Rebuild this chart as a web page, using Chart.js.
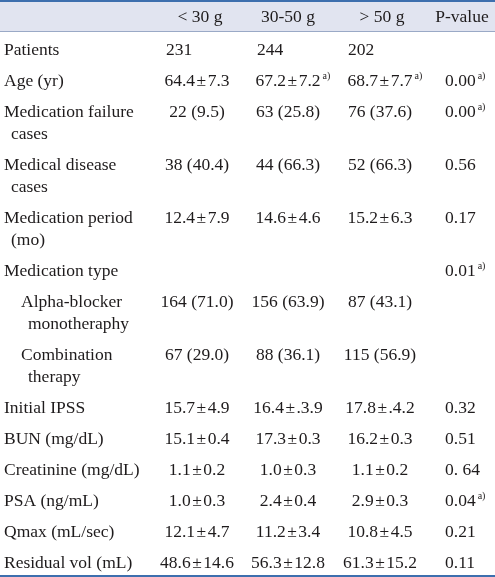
<!DOCTYPE html>
<html>
<head>
<meta charset="utf-8">
<script src="https://cdn.jsdelivr.net/npm/chart.js@4.4.1/dist/chart.umd.min.js"></script>
<style>
html,body{margin:0;padding:0;background:#fff;}
#wrap{width:495px;height:577px;}
</style>
</head>
<body>
<div id="wrap"><canvas id="c" width="495" height="577"></canvas></div>
<script>
// ---- DATA ----
const headers = ["< 30 g", "30-50 g", "> 50 g", "P-value"];
const characteristics = [
  ["Patients"], ["Age (yr)"], ["Medication failure", "cases"], ["Medical disease", "cases"],
  ["Medication period", "(mo)"], ["Medication type"], ["Alpha-blocker", "monotheraphy"],
  ["Combination", "therapy"], ["Initial IPSS"], ["BUN (mg/dL)"], ["Creatinine (mg/dL)"],
  ["PSA (ng/mL)"], ["Qmax (mL/sec)"], ["Residual vol (mL)"]
];
const indentLevel = [0,0,0,0,0,0,1,1,0,0,0,0,0,0];
const under30 = ["231","64.4\u200a±\u200a7.3","22 (9.5)","38 (40.4)","12.4\u200a±\u200a7.9","","164 (71.0)","67 (29.0)","15.7\u200a±\u200a4.9","15.1\u200a±\u200a0.4","1.1\u200a±\u200a0.2","1.0\u200a±\u200a0.3","12.1\u200a±\u200a4.7","48.6\u200a±\u200a14.6"];
const from30to50 = ["244","67.2\u200a±\u200a7.2","63 (25.8)","44 (66.3)","14.6\u200a±\u200a4.6","","156 (63.9)","88 (36.1)","16.4\u200a±\u200a.3.9","17.3\u200a±\u200a0.3","1.0\u200a±\u200a0.3","2.4\u200a±\u200a0.4","11.2\u200a±\u200a3.4","56.3\u200a±\u200a12.8"];
const over50 = ["202","68.7\u200a±\u200a7.7","76 (37.6)","52 (66.3)","15.2\u200a±\u200a6.3","","87 (43.1)","115 (56.9)","17.8\u200a±\u200a.4.2","16.2\u200a±\u200a0.3","1.1\u200a±\u200a0.2","2.9\u200a±\u200a0.3","10.8\u200a±\u200a4.5","61.3\u200a±\u200a15.2"];
const pValues = ["","0.00","0.00","0.56","0.17","0.01","","","0.32","0.51","0. 64","0.04","0.21","0.11"];
const notes30to50 = ["","a)","","","","","","","","","","","",""];
const notesOver50 = ["","a)","","","","","","","","","","","",""];
const notesP = ["","a)","a)","","","a)","","","","","","a)","",""];

// ---- LAYOUT / STYLE ----
const FONT = '17.5px "Liberation Serif", "Times New Roman", serif';
const SUP = '10px "Liberation Serif", "Times New Roman", serif';
const TEXT = '#1e1b1c';
const colCenters = [197, 288, 380];
const colLefts = [166, 257, 348];
const pLeft = 445;
const firstBaseline = 55, rowGap = 31, innerGap = 22;

const tablePlugin = {
  id: 'tableDraw',
  afterDraw(chart) {
    const ctx = chart.ctx, xs = chart.scales.x, ys = chart.scales.y;
    const X = v => xs.getPixelForValue(v), Y = v => ys.getPixelForValue(v);
    ctx.save();
    // header band and rules
    ctx.fillStyle = '#e1e4f0';
    ctx.fillRect(X(0), Y(1), X(495) - X(0), Y(31) - Y(1));
    ctx.fillStyle = '#3d6fae';
    ctx.fillRect(X(0), Y(0), X(495) - X(0), Y(2) - Y(0));
    ctx.fillStyle = '#9aa9c6';
    ctx.fillRect(X(0), Y(31), X(495) - X(0), 1);
    ctx.fillStyle = '#3d6fae';
    ctx.fillRect(X(0), Y(575), X(495) - X(0), Y(577) - Y(575));

    ctx.fillStyle = TEXT;
    ctx.textBaseline = 'alphabetic';
    ctx.font = FONT;
    const hdrX = [colCenters[0] + 3, colCenters[1], colCenters[2] + 2, 462];
    ctx.textAlign = 'center';
    headers.forEach((h, i) => ctx.fillText(h, X(hdrX[i]), Y(22)));

    const drawCell = (txt, note, x, y, align) => {
      if (!txt) return;
      ctx.font = FONT;
      const w = ctx.measureText(txt).width;
      const left = align === 'center' ? x - w / 2 : x;
      ctx.textAlign = 'left';
      ctx.fillText(txt, left, y);
      if (note) {
        ctx.font = SUP;
        ctx.fillText(note, left + w + 2, y - 7);
        ctx.font = FONT;
      }
    };

    let base = firstBaseline;
    characteristics.forEach((lines, r) => {
      const y0 = Y(base);
      const ind = indentLevel[r] * 17;
      ctx.font = FONT;
      ctx.textAlign = 'left';
      lines.forEach((ln, k) => {
        ctx.fillText(ln, X(4 + ind + (k > 0 ? 7 : 0)), Y(base + k * innerGap));
      });
      const align = r === 0 ? 'left' : 'center';
      const cols = [[under30[r], ''], [from30to50[r], notes30to50[r]], [over50[r], notesOver50[r]]];
      cols.forEach((c, i) => {
        const x = align === 'left' ? X(colLefts[i]) : X(colCenters[i]);
        drawCell(c[0], c[1], x, y0, align);
      });
      drawCell(pValues[r], notesP[r], X(pLeft), y0, 'left');
      base += (lines.length - 1) * innerGap + rowGap;
    });
    ctx.restore();
  }
};

new Chart(document.getElementById('c'), {
  type: 'scatter',
  data: { datasets: [{ data: [] }] },
  options: {
    responsive: false,
    animation: false,
    layout: { padding: 0 },
    plugins: { legend: { display: false }, tooltip: { enabled: false } },
    scales: {
      x: { type: 'linear', min: 0, max: 495, display: false },
      y: { type: 'linear', min: 0, max: 577, reverse: true, display: false }
    }
  },
  plugins: [tablePlugin]
});
</script>
</body>
</html>
